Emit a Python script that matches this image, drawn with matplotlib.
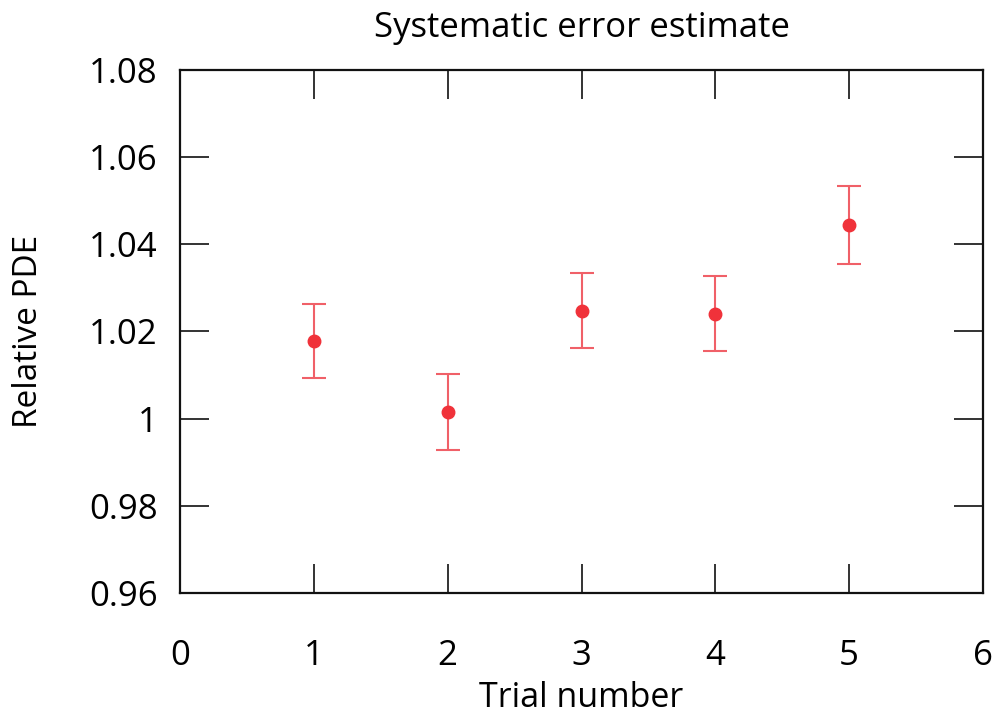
import matplotlib
matplotlib.use("Agg")
import matplotlib.pyplot as plt

trials = [1, 2, 3, 4, 5]
rel_pde = [1.0179, 1.0016, 1.0248, 1.0241, 1.0444]
errors = [0.0085, 0.0087, 0.0087, 0.0086, 0.0090]
xticks = [0, 1, 2, 3, 4, 5, 6]
yticks = [0.96, 0.98, 1.00, 1.02, 1.04, 1.06, 1.08]
ytick_labels = ["0.96", "0.98", "1", "1.02", "1.04", "1.06", "1.08"]

plt.rcParams['font.family'] = ['Open Sans', 'DejaVu Sans']

fig = plt.figure(figsize=(10.02, 7.21), dpi=100)
ax = fig.add_axes([180/1002, 1-593/721, (983-180)/1002, (593-70)/721])

color = '#f0323a'
ax.errorbar(trials, rel_pde, yerr=errors, fmt='o', color=color, ecolor='#f06068',
            markersize=9, elinewidth=1.5, capsize=8.5, capthick=1.5)

ax.set_xlim(0, 6)
ax.set_ylim(0.96, 1.08)
ax.set_xticks(xticks)
ax.set_yticks(yticks)
ax.set_yticklabels(ytick_labels)
ax.tick_params(direction='in', length=21, width=1.2, top=True, right=True,
               labelsize=25, color='#111111')
ax.tick_params(axis='x', pad=33)
ax.tick_params(axis='y', pad=16)
for s in ax.spines.values():
    s.set_linewidth(1.6)
    s.set_color('#111111')

ax.set_xlabel('Trial number', fontsize=24.5, labelpad=6)
ax.set_ylabel('Relative PDE', fontsize=24, labelpad=32)
ax.set_title('Systematic error estimate', fontsize=25, pad=24)

fig.savefig('out.png', dpi=100)
